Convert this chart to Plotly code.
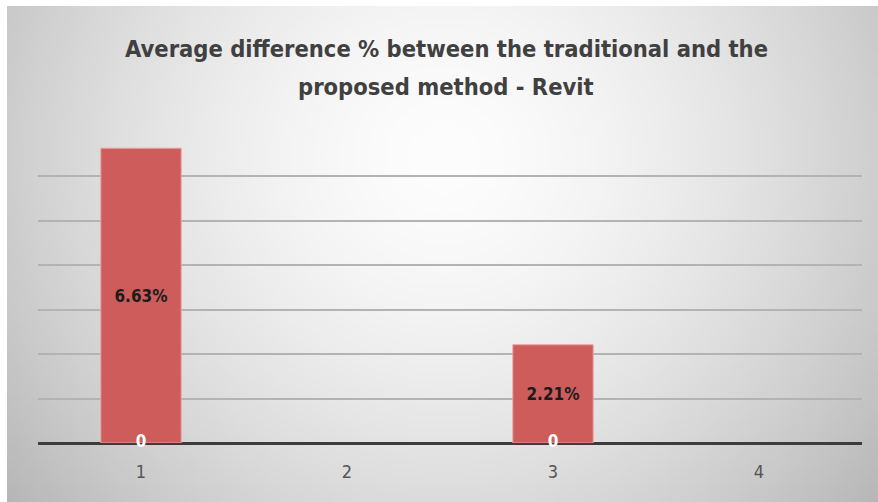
import base64
import struct
import zlib

import numpy as np
import plotly.graph_objects as go

# ---------------- data ----------------
categories = ["1", "2", "3", "4"]
difference_pct = [6.63, None, 2.21, None]
base_series = [0, None, 0, None]
base_labels = ["0", "", "0", ""]
title_line1 = "Average difference % between the traditional and the"
title_line2 = "proposed method - Revit"

# ---------------- background gradient (style only) ----------------
W, H = 240, 136
yy, xx = np.mgrid[0:H, 0:W]
cx, cy = W * 0.5, H * 0.3
d = np.sqrt(((xx - cx) / (W * 0.55)) ** 2 + ((yy - cy) / (H * 0.95)) ** 2)
v = 253 - 55 * np.clip(d, 0, 1.3) ** 1.6
img = np.clip(v, 0, 255).astype(np.uint8)


def _png(gray):
    h, w = gray.shape
    raw = b"".join(b"\x00" + gray[r].tobytes() for r in range(h))

    def chunk(tag, data):
        c = struct.pack(">I", len(data)) + tag + data
        return c + struct.pack(">I", zlib.crc32(tag + data) & 0xFFFFFFFF)

    out = b"\x89PNG\r\n\x1a\n"
    out += chunk(b"IHDR", struct.pack(">IIBBBBB", w, h, 8, 0, 0, 0, 0))
    out += chunk(b"IDAT", zlib.compress(raw, 9))
    out += chunk(b"IEND", b"")
    return "data:image/png;base64," + base64.b64encode(out).decode()


bg_src = _png(img)

# layout geometry (pixels)
FW, FH = 878, 502
ML, MR, MT, MB = 38, 16, 134, 59
PW, PH = FW - ML - MR, FH - MT - MB


def px_x(px):
    return (px - ML) / PW


def px_y(py):
    return (FH - MB - py) / PH


FONT = "DejaVu Sans Condensed, Liberation Sans Narrow, Open Sans, sans-serif"

fig = go.Figure()
fig.add_trace(
    go.Bar(
        x=categories,
        y=difference_pct,
        width=0.39,
        marker=dict(color="#cd5c5b", line=dict(color="#e9a3a0", width=1)),
        texttemplate="<b>%{y:.2f}%</b>",
        textposition="inside",
        insidetextanchor="middle",
        textangle=0,
        textfont=dict(family=FONT, size=17, color="#1c1c1c"),
        hoverinfo="skip",
        showlegend=False,
    )
)
fig.add_trace(
    go.Scatter(
        x=categories,
        y=base_series,
        mode="text",
        text=[f"<b>{t}</b>" for t in base_labels],
        textposition="middle center",
        textfont=dict(family=FONT, size=17, color="#ffffff"),
        cliponaxis=False,
        hoverinfo="skip",
        showlegend=False,
    )
)

fig.update_layout(
    width=FW,
    height=FH,
    margin=dict(l=ML, r=MR, t=MT, b=MB),
    paper_bgcolor="#ffffff",
    plot_bgcolor="rgba(0,0,0,0)",
    images=[
        dict(
            source=bg_src,
            xref="paper",
            yref="paper",
            x=px_x(7),
            y=px_y(6),
            sizex=px_x(878) - px_x(7),
            sizey=px_y(6) - px_y(502),
            sizing="stretch",
            xanchor="left",
            yanchor="top",
            layer="below",
        )
    ],
    annotations=[
        dict(
            text=f"<b>{title_line1}</b>",
            xref="paper",
            yref="paper",
            x=px_x(446),
            y=px_y(49),
            showarrow=False,
            xanchor="center",
            yanchor="middle",
            font=dict(family=FONT, size=23.5, color="#404040"),
        ),
        dict(
            text=f"<b>{title_line2}</b>",
            xref="paper",
            yref="paper",
            x=px_x(446),
            y=px_y(87),
            showarrow=False,
            xanchor="center",
            yanchor="middle",
            font=dict(family=FONT, size=23.5, color="#404040"),
        ),
    ],
    xaxis=dict(
        type="category",
        showgrid=False,
        showline=False,
        ticks="",
        tickfont=dict(family=FONT, size=18, color="#555555"),
        ticklabelstandoff=16,
        zeroline=False,
    ),
    yaxis=dict(
        range=[0, 6.95],
        dtick=1,
        showgrid=True,
        gridcolor="#b3b3b3",
        gridwidth=1.5,
        showticklabels=False,
        zeroline=True,
        zerolinecolor="#3c3c3c",
        zerolinewidth=3,
        showline=False,
        ticks="",
    ),
    bargap=0.6,
)

fig.write_html("out.html")
